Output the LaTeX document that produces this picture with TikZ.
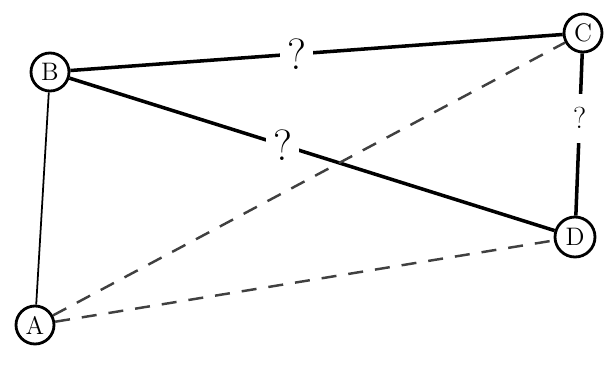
\documentclass[tikz,border=0pt]{standalone}
\usepackage{tikz}
\usetikzlibrary{arrows.meta}

\begin{document}
\begin{tikzpicture}[
vertex/.style={draw, circle, line width=1.6pt, minimum size=0.76cm, inner sep=0pt, font=\Large},
link/.style={line width=2pt},
thinlink/.style={line width=1pt},
guess/.style={dashed, line width=1.4pt, draw=black!75, dash pattern=on 0.3cm off 0.24cm},
qmark/.style={fill=white, inner sep=4pt, font=\Huge}
]
\useasboundingbox (0,0) rectangle (12.16,-7.44);
\node[vertex] (B) at (1.0,-1.44) {B};
\node[vertex] (C) at (11.66,-0.66) {C};
\node[vertex, minimum size=0.8cm] (D) at (11.5,-4.74) {D};
\node[vertex] (A) at (0.7,-6.5) {A};

\draw[link] (B) -- node[qmark, pos=0.46] {?} (C);
\draw[link] (B) -- node[qmark, pos=0.44] {?} (D);
\draw[link] (C) -- node[qmark, pos=0.4, font=\LARGE, inner sep=8pt] {?} (D);
\draw[thinlink] (B) -- (A);
\draw[guess] (A) -- (C);
\draw[guess] (A) -- (D);
\end{tikzpicture}
\end{document}
